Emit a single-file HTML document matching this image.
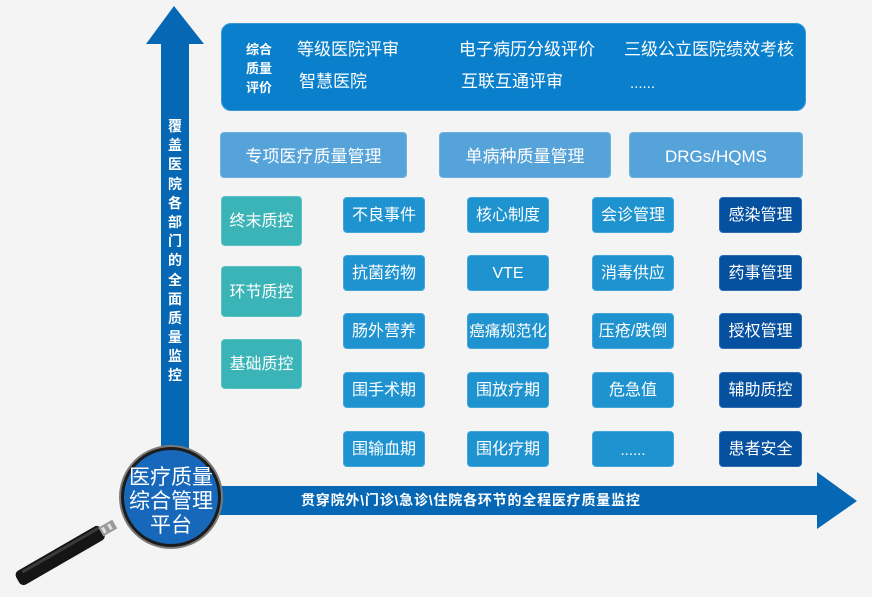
<!DOCTYPE html>
<html><head><meta charset="utf-8">
<style>
html,body{margin:0;padding:0;}
body{width:872px;height:597px;background:#f4f4f4;position:relative;overflow:hidden;font-family:"Liberation Sans","Noto Sans CJK SC",sans-serif;}
.a{position:absolute;}
.box{position:absolute;display:flex;align-items:center;justify-content:center;color:#fff;box-sizing:border-box;white-space:nowrap;line-height:1;padding-top:2px;}
.hd{background:#56a3da;border-radius:4px;font-size:17px;height:46px;top:132px;border:1px solid #6fb2e0;}
.tl{background:#3bb4b8;border-radius:4px;font-size:16px;left:221px;width:81px;border:1px solid #5cc2c5;}
.g{background:#1f93cf;border-radius:4px;font-size:16px;width:82px;height:36px;border:1px solid #44a6d8;}
.d{background:#0650a0;border-color:#2f6db0;}
.t{position:absolute;color:#fff;white-space:nowrap;font-size:17px;line-height:20px;}
.vt span{display:block;height:19.2px;line-height:19.2px;}
</style></head>
<body>
<svg class="a" style="left:0;top:0" width="872" height="597">
  <rect x="161" y="43" width="28" height="450" fill="#0668b5"/>
  <polygon points="174,6 204,44 146,44" fill="#0668b5"/>
  <rect x="175" y="486" width="644" height="29" fill="#0668b5"/>
  <polygon points="817,472 857,501 817,529" fill="#0668b5"/>
  <g transform="translate(113,525) rotate(-30)">
    <rect x="-110" y="-8" width="98" height="16" rx="5" fill="#151515"/>
    <rect x="-102" y="-6" width="88" height="3" fill="#3a3a3a"/>
    <rect x="-14" y="-5" width="16" height="10" fill="#9a9a9a"/>
    <rect x="-12" y="-3" width="3" height="6" fill="#e0e0e0"/>
    <rect x="-5" y="-3" width="3" height="6" fill="#e0e0e0"/>
  </g>
  <circle cx="171" cy="497" r="52" fill="#7a7a7a"/>
  <circle cx="171" cy="497" r="50" fill="#1c1c1c"/>
  <circle cx="171" cy="497" r="47" fill="#1768bb"/>
</svg>

<div class="a vt" style="left:161px;top:117px;width:28px;text-align:center;color:#fff;font-weight:bold;font-size:14px;"><span>覆</span><span>盖</span><span>医</span><span>院</span><span>各</span><span>部</span><span>门</span><span>的</span><span>全</span><span>面</span><span>质</span><span>量</span><span>监</span><span>控</span></div>

<div class="a" style="left:301px;top:490px;color:#fff;font-weight:bold;font-size:14px;line-height:20px;white-space:nowrap;letter-spacing:0.8px;">贯穿院外\门诊\急诊\住院各环节的全程医疗质量监控</div>

<div class="a" style="left:121px;top:466px;width:100px;text-align:center;color:#fff;font-size:21px;line-height:24px;">医疗质量<br>综合管理<br>平台</div>

<div class="a" style="left:221px;top:23px;width:585px;height:88px;background:#0a7fcb;border-radius:10px;border:1px solid #3a97d6;box-sizing:border-box;"></div>
<div class="a" style="left:240px;top:40px;width:38px;text-align:center;color:#fff;font-weight:bold;font-size:13px;line-height:19px;">综合<br>质量<br>评价</div>
<div class="t" style="left:297px;top:40px;">等级医院评审</div>
<div class="t" style="left:459px;top:40px;">电子病历分级评价</div>
<div class="t" style="left:624px;top:40px;">三级公立医院绩效考核</div>
<div class="t" style="left:299px;top:72px;">智慧医院</div>
<div class="t" style="left:461px;top:72px;">互联互通评审</div>
<div class="t" style="left:630px;top:74px;font-size:15px;">......</div>

<div class="box hd" style="left:220px;width:187px;">专项医疗质量管理</div>
<div class="box hd" style="left:439px;width:172px;">单病种质量管理</div>
<div class="box hd" style="left:629px;width:174px;">DRGs/HQMS</div>

<div class="box tl" style="top:196px;height:50px;">终末质控</div>
<div class="box tl" style="top:266px;height:51px;">环节质控</div>
<div class="box tl" style="top:339px;height:50px;">基础质控</div>

<div class="box g" style="left:343px;top:197px;">不良事件</div>
<div class="box g" style="left:343px;top:255px;">抗菌药物</div>
<div class="box g" style="left:343px;top:313px;">肠外营养</div>
<div class="box g" style="left:343px;top:372px;">围手术期</div>
<div class="box g" style="left:343px;top:431px;">围输血期</div>

<div class="box g" style="left:467px;top:197px;">核心制度</div>
<div class="box g" style="left:467px;top:255px;">VTE</div>
<div class="box g" style="left:467px;top:313px;font-size:15.5px;">癌痛规范化</div>
<div class="box g" style="left:467px;top:372px;">围放疗期</div>
<div class="box g" style="left:467px;top:431px;">围化疗期</div>

<div class="box g" style="left:592px;top:197px;">会诊管理</div>
<div class="box g" style="left:592px;top:255px;">消毒供应</div>
<div class="box g" style="left:592px;top:313px;">压疮/跌倒</div>
<div class="box g" style="left:592px;top:372px;">危急值</div>
<div class="box g" style="left:592px;top:431px;font-size:15px;">......</div>

<div class="box g d" style="left:719px;top:197px;width:83px;">感染管理</div>
<div class="box g d" style="left:719px;top:255px;width:83px;">药事管理</div>
<div class="box g d" style="left:719px;top:313px;width:83px;">授权管理</div>
<div class="box g d" style="left:719px;top:372px;width:83px;">辅助质控</div>
<div class="box g d" style="left:719px;top:431px;width:83px;">患者安全</div>
</body></html>
